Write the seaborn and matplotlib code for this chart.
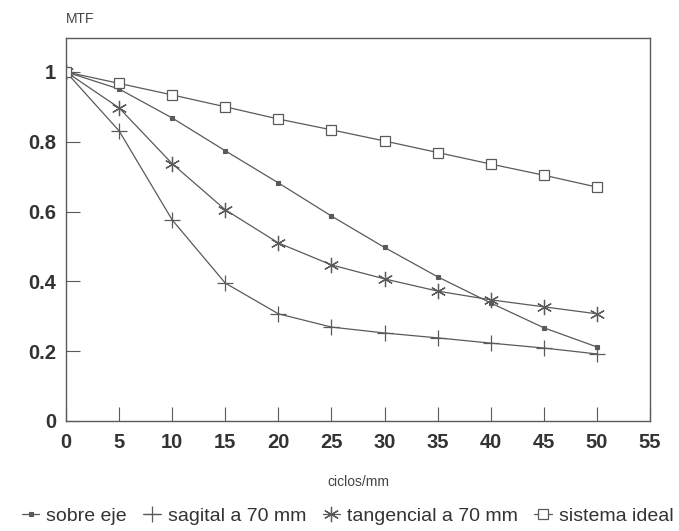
import numpy as np
import pandas as pd
import matplotlib
matplotlib.use("Agg")
import matplotlib.pyplot as plt
import seaborn as sns

freq = [0, 5, 10, 15, 20, 25, 30, 35, 40, 45, 50]
sobre_eje = [1.0, 0.951, 0.868, 0.774, 0.682, 0.587, 0.497, 0.413, 0.338, 0.267, 0.212]
sagital = [1.0, 0.831, 0.576, 0.395, 0.307, 0.269, 0.252, 0.238, 0.223, 0.209, 0.192]
tangencial = [1.0, 0.897, 0.737, 0.605, 0.510, 0.447, 0.407, 0.372, 0.347, 0.327, 0.307]
ideal = [1.0, 0.967, 0.934, 0.900, 0.865, 0.834, 0.802, 0.769, 0.736, 0.704, 0.670]
series_names = ["sobre eje", "sagital a 70 mm", "tangencial a 70 mm", "sistema ideal"]
x_ticks = [0, 5, 10, 15, 20, 25, 30, 35, 40, 45, 50, 55]
y_ticks = [0, 0.2, 0.4, 0.6, 0.8, 1.0]
y_tick_labels = ["0", "0.2", "0.4", "0.6", "0.8", "1"]

sns.set_theme(style="white")
plt.rcParams['font.family'] = ['Liberation Sans', 'DejaVu Sans']

df = pd.DataFrame({
    "freq": freq * 4,
    "mtf": sobre_eje + sagital + tangencial + ideal,
    "serie": sum([[n] * len(freq) for n in series_names], []),
})

fig = plt.figure(figsize=(6.79, 5.31), dpi=100)
ax = fig.add_axes([0.0972, 0.2072, 0.8601, 0.7212])

col = "#5a5a5a"
styles = {
    "sobre eje": dict(marker="s", ms=2.8, mfc=col, mec=col, mew=0.8),
    "sagital a 70 mm": dict(marker="+", ms=11, mfc="none", mec=col, mew=0.9),
    "tangencial a 70 mm": dict(marker=(6, 2, 0), ms=11, mfc="none", mec=col, mew=0.9),
    "sistema ideal": dict(marker="s", ms=6.5, mfc="white", mec=col, mew=0.9),
}
handles = []
for name in series_names:
    sub = df[df["serie"] == name]
    sns.lineplot(data=sub, x="freq", y="mtf", ax=ax, color=col, lw=0.9,
                 legend=False, **styles[name])
    h, = ax.plot([], [], color=col, lw=0.9, **styles[name])
    handles.append(h)

ax.set_xlim(0, 55)
ax.set_ylim(0, 1.097)
ax.set_xticks(x_ticks)
ax.set_xticklabels([str(t) for t in x_ticks], fontsize=14.5, fontweight="bold", color="#333333")
ax.set_yticks(y_ticks)
ax.set_yticklabels(y_tick_labels, fontsize=14.5, fontweight="bold", color="#333333")
ax.tick_params(axis="both", direction="in", length=10, width=0.8, color=col,
               bottom=True, left=True, top=False, right=False)
ax.tick_params(axis="x", pad=9)
ax.tick_params(axis="y", pad=7)
ax.set_xlabel("ciclos/mm", fontsize=10, color="#444444", labelpad=16)
ax.set_ylabel("")
for s in ax.spines.values():
    s.set_color(col)
    s.set_linewidth(1.0)

fig.text(0.097, 0.965, "MTF", fontsize=10, color="#444444", ha="left", va="center")

fig.legend(handles, series_names, loc="lower center", bbox_to_anchor=(0.512, -0.022),
           ncol=4, frameon=False, fontsize=14, handlelength=0.9,
           handletextpad=0.35, columnspacing=0.85, labelcolor="#333333")

fig.savefig("out.png", dpi=100)
